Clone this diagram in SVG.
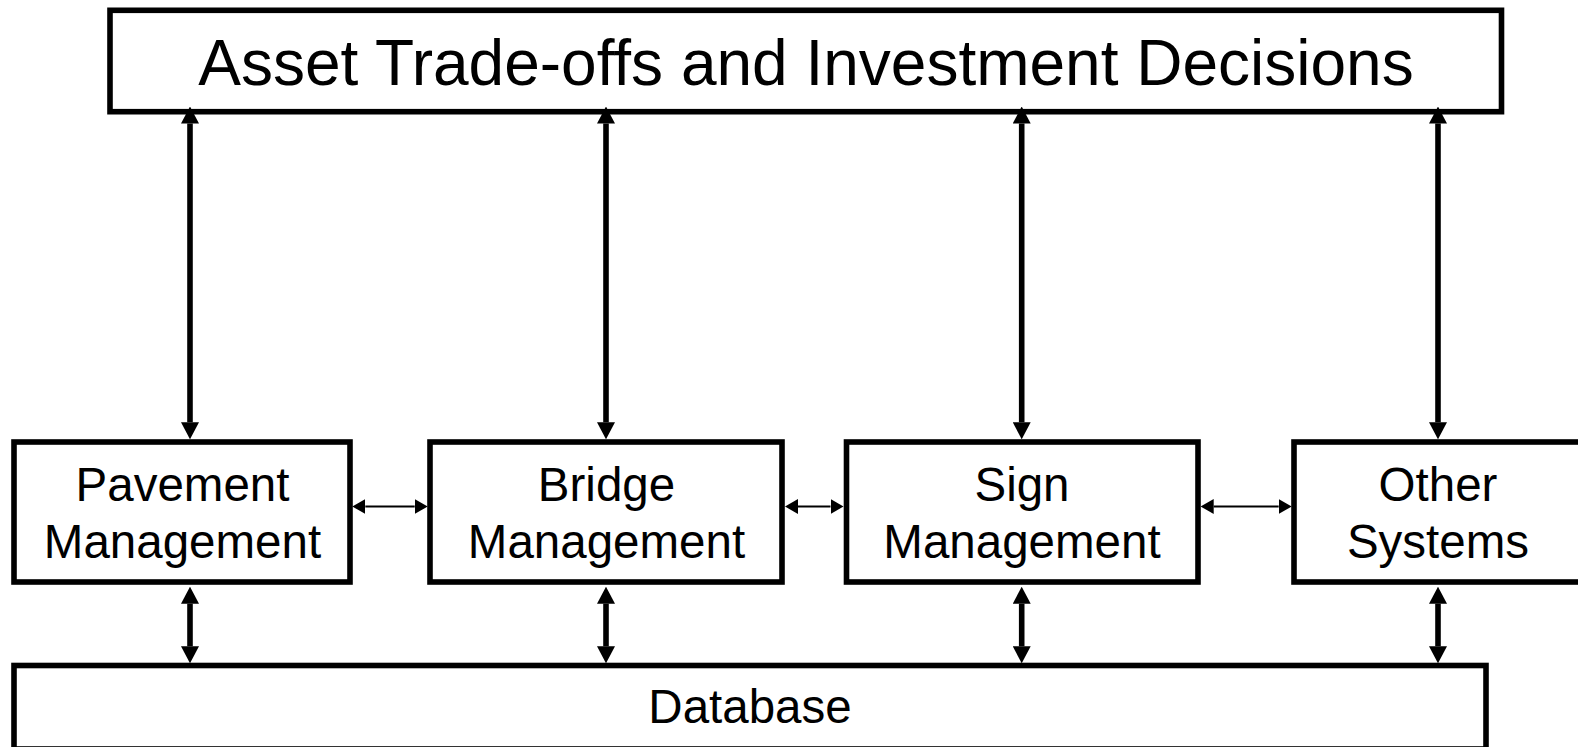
<svg xmlns="http://www.w3.org/2000/svg" width="1578" height="747" viewBox="0 0 1578 747">
  <style>
    .box { fill: #ffffff; stroke: #000000; stroke-width: 5.6; }
    .lbl { font-family: "Liberation Sans", Arial, sans-serif; font-size: 47.5px; fill: #000000; text-anchor: middle; }
    .title { font-family: "Liberation Sans", Arial, sans-serif; font-size: 64px; fill: #000000; text-anchor: middle; }
    .thick { stroke: #000000; stroke-width: 5.6; fill: none; marker-start: url(#headBig); marker-end: url(#headBig); }
    .thin { stroke: #000000; stroke-width: 2; fill: none; marker-start: url(#headSmall); marker-end: url(#headSmall); }
  </style>
  <defs>
    <marker id="headBig" viewBox="0 0 17 18" refX="0" refY="9" markerWidth="17" markerHeight="18" markerUnits="userSpaceOnUse" orient="auto-start-reverse">
      <path d="M0,0 L17,9 L0,18 Z" fill="#000000"/>
    </marker>
    <marker id="headSmall" viewBox="0 0 13 15" refX="0" refY="7.5" markerWidth="13" markerHeight="15" markerUnits="userSpaceOnUse" orient="auto-start-reverse">
      <path d="M0,0 L13,7.5 L0,15 Z" fill="#000000"/>
    </marker>
  </defs>

  <g id="top">
    <rect class="box" x="110" y="10.3" width="1391.5" height="101.4"/>
    <text class="title" x="806" y="85">Asset Trade-offs and Investment Decisions</text>
  </g>

  <g id="pavement">
    <rect class="box" x="14" y="442" width="336" height="140"/>
    <text class="lbl" x="182.5" y="501">Pavement</text>
    <text class="lbl" x="182.5" y="558.3">Management</text>
  </g>

  <g id="bridge">
    <rect class="box" x="430" y="442" width="352" height="140"/>
    <text class="lbl" x="606.5" y="501">Bridge</text>
    <text class="lbl" x="606.5" y="558.3">Management</text>
  </g>

  <g id="sign">
    <rect class="box" x="846.5" y="442" width="351.5" height="140"/>
    <text class="lbl" x="1022" y="501">Sign</text>
    <text class="lbl" x="1022" y="558.3">Management</text>
  </g>

  <g id="other">
    <rect class="box" x="1294" y="442" width="288" height="140"/>
    <text class="lbl" x="1438" y="501">Other</text>
    <text class="lbl" x="1438" y="558.3">Systems</text>
  </g>

  <g id="database">
    <rect class="box" x="14" y="665.5" width="1472" height="83.5"/>
    <text class="lbl" x="750" y="723.3">Database</text>
  </g>

  <g id="connectors">
    <line class="thick" x1="190" y1="123.5" x2="190" y2="422.3"/>
    <line class="thick" x1="606" y1="123.5" x2="606" y2="422.3"/>
    <line class="thick" x1="1021.7" y1="123.5" x2="1021.7" y2="422.3"/>
    <line class="thick" x1="1438" y1="123.5" x2="1438" y2="422.3"/>

    <line class="thick" x1="190" y1="603.7" x2="190" y2="646.3"/>
    <line class="thick" x1="606" y1="603.7" x2="606" y2="646.3"/>
    <line class="thick" x1="1021.7" y1="603.7" x2="1021.7" y2="646.3"/>
    <line class="thick" x1="1438" y1="603.7" x2="1438" y2="646.3"/>

    <line class="thin" x1="365.3" y1="506.5" x2="414.7" y2="506.5"/>
    <line class="thin" x1="798" y1="506.5" x2="830.5" y2="506.5"/>
    <line class="thin" x1="1213.7" y1="506.5" x2="1278.7" y2="506.5"/>
  </g>
</svg>
